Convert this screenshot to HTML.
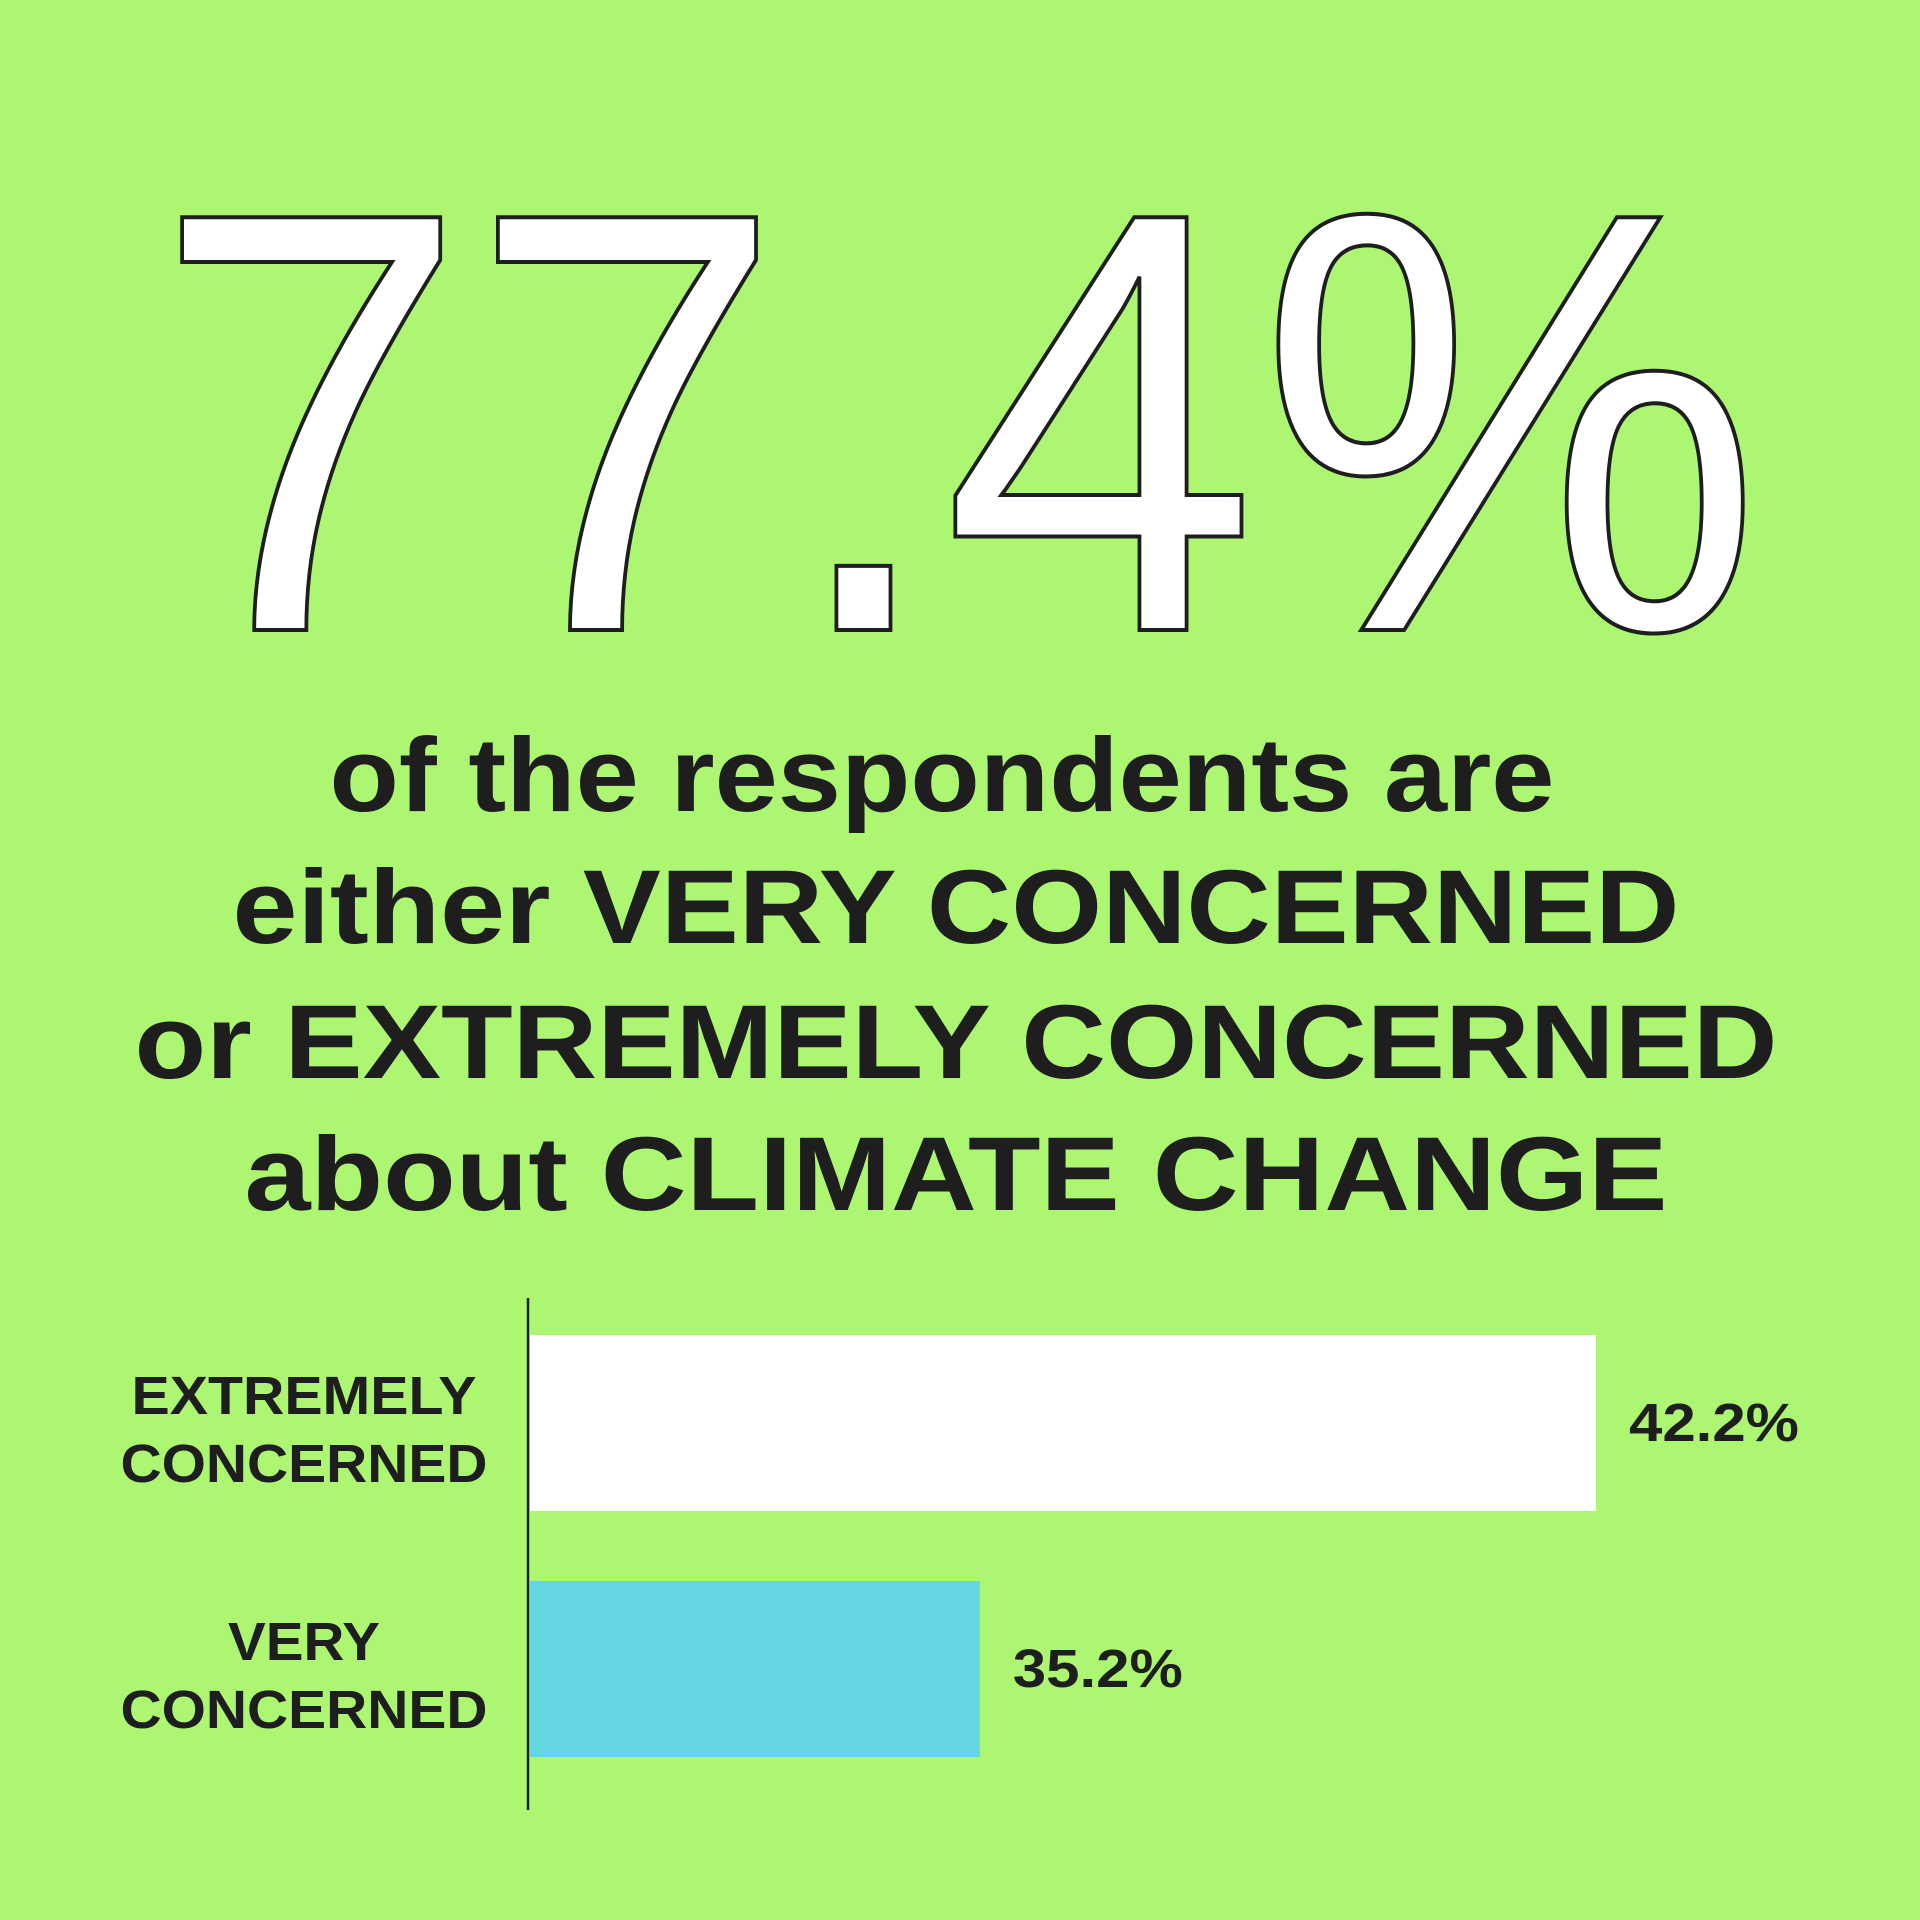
<!DOCTYPE html>
<html><head><meta charset="utf-8"><style>
html,body{margin:0;padding:0;background:#adf672;}
svg{display:block;}
text{font-family:"Liberation Sans",sans-serif;fill:#1e1e1e;}
</style></head><body>
<svg id="chart" width="1920" height="1920" viewBox="0 0 1920 1920">
<rect x="0" y="0" width="1920" height="1920" fill="#adf672"/>
<text x="958" y="630" text-anchor="middle" font-size="600" textLength="1610" lengthAdjust="spacingAndGlyphs" style="fill:#fff;stroke:#1e1e1e;stroke-width:4">77.4%</text>
<g font-weight="bold" font-size="105" text-anchor="middle">
<text x="942" y="811" textLength="1225" lengthAdjust="spacingAndGlyphs">of the respondents are</text>
<text x="956" y="943" textLength="1447" lengthAdjust="spacingAndGlyphs">either VERY CONCERNED</text>
<text x="956" y="1078" textLength="1643" lengthAdjust="spacingAndGlyphs">or EXTREMELY CONCERNED</text>
<text x="956" y="1210" textLength="1423" lengthAdjust="spacingAndGlyphs">about CLIMATE CHANGE</text>
</g>
<g id="bars"></g>
<line x1="528" y1="1298" x2="528" y2="1810" stroke="#1e1e1e" stroke-width="2.5"/>
</svg>
<script>
const categories = [["EXTREMELY","CONCERNED"],["VERY","CONCERNED"]];
const values = [42.2, 35.2];
const valueLabels = ["42.2%","35.2%"];
const colors = ["#ffffff","#64d6e2"];

const x0 = 530, xDomain = [30.09, 42.2], xRange = [0, 1066];
function xScale(v){return xRange[0] + (v - xDomain[0]) / (xDomain[1] - xDomain[0]) * (xRange[1] - xRange[0]);}
const bandTop = 1335, bandStep = 246, barH = 176;
function yScale(i){return bandTop + i * bandStep;}

const ns = "http://www.w3.org/2000/svg";
const g = document.getElementById("bars");
values.forEach((v, i) => {
  const y = yScale(i);
  const w = xScale(v);
  const r = document.createElementNS(ns, "rect");
  r.setAttribute("x", x0); r.setAttribute("y", y);
  r.setAttribute("width", w); r.setAttribute("height", barH);
  r.setAttribute("fill", colors[i]);
  
  
  g.appendChild(r);

  const t = document.createElementNS(ns, "text");
  t.setAttribute("x", x0 + w + 33); t.setAttribute("y", y + 106);
  t.setAttribute("font-size", "54"); t.setAttribute("font-weight", "bold");
  t.setAttribute("textLength", "170"); t.setAttribute("lengthAdjust", "spacingAndGlyphs");
  t.textContent = valueLabels[i];
  
  
  g.appendChild(t);

  categories[i].forEach((line, j) => {
    const c = document.createElementNS(ns, "text");
    c.setAttribute("x", 304); c.setAttribute("y", y + 79 + j * 68);
    c.setAttribute("text-anchor", "middle");
    c.setAttribute("font-size", "54"); c.setAttribute("font-weight", "bold");
    const len = line.length === 4 ? 152 : (line === "EXTREMELY" ? 345 : 367);
    c.setAttribute("textLength", len); c.setAttribute("lengthAdjust", "spacingAndGlyphs");
    c.textContent = line;
    
    
    g.appendChild(c);
  });
});
</script>
</body></html>
